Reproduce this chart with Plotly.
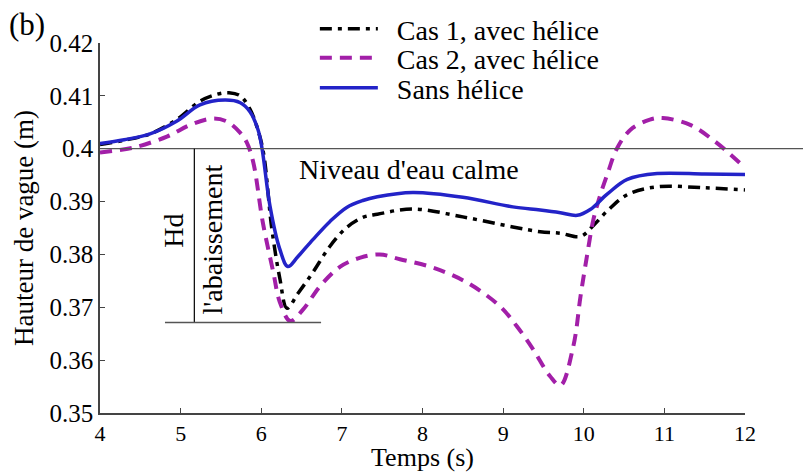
import plotly.graph_objects as go

# ---- data ----
t_cas1 = [4.0, 4.3, 4.62, 4.95, 5.24, 5.45, 5.6, 5.74, 5.86, 5.96, 6.03, 6.13, 6.23, 6.32,
          6.45, 6.64, 6.85, 7.06, 7.26, 7.44, 7.88, 8.5, 9.12, 9.46, 9.71, 9.96, 10.12,
          10.29, 10.54, 10.91, 11.5, 12.0]
h_cas1 = [0.4008, 0.4016, 0.4028, 0.4055, 0.4090, 0.4103, 0.4106, 0.4100, 0.4075, 0.4035,
          0.3990, 0.3850, 0.3755, 0.3698, 0.3725, 0.3766, 0.3815, 0.3851, 0.3870, 0.3876,
          0.3886, 0.3871, 0.3852, 0.3843, 0.3840, 0.3834, 0.3855, 0.3882, 0.3913, 0.3928,
          0.3926, 0.3922]

t_cas2 = [4.0, 4.41, 4.83, 5.12, 5.40, 5.58, 5.74, 5.82, 5.90, 6.02, 6.15, 6.23, 6.36,
          6.52, 6.73, 6.98, 7.23, 7.47, 7.72, 8.13, 8.55, 8.96, 9.17, 9.37, 9.58, 9.71,
          9.87, 9.96, 10.04, 10.12, 10.20, 10.30, 10.41, 10.58, 10.82, 10.98, 11.32,
          11.65, 12.0]
h_cas2 = [0.3993, 0.4002, 0.4023, 0.4045, 0.4057, 0.4051, 0.4030, 0.4012, 0.3975, 0.3860,
          0.3766, 0.3710, 0.3674, 0.3696, 0.3740, 0.3777, 0.3794, 0.3800, 0.3791, 0.3775,
          0.3747, 0.3702, 0.3664, 0.3621, 0.3570, 0.3552, 0.3626, 0.3721, 0.3797, 0.3866,
          0.3910, 0.3955, 0.4000, 0.4036, 0.4055, 0.4058, 0.4045, 0.4011, 0.3964]

t_sans = [4.0, 4.3, 4.62, 4.95, 5.24, 5.55, 5.74, 5.86, 5.96, 6.01, 6.11, 6.23, 6.33,
          6.45, 6.64, 6.85, 7.06, 7.26, 7.44, 7.88, 8.5, 9.12, 9.46, 9.71, 9.92, 10.08,
          10.29, 10.54, 10.91, 11.5, 12.0]
h_sans = [0.4010, 0.4017, 0.4028, 0.4052, 0.4083, 0.4092, 0.4087, 0.4070, 0.4036, 0.4000,
          0.3890, 0.3810, 0.3777, 0.3795, 0.3828, 0.3862, 0.3889, 0.3902, 0.3909, 0.3917,
          0.3908, 0.3890, 0.3884, 0.3879, 0.3874, 0.3885, 0.3914, 0.3942, 0.3953, 0.3952,
          0.3951]

names = ["Cas 1, avec hélice", "Cas 2, avec hélice", "Sans hélice"]
x_ticks = [4, 5, 6, 7, 8, 9, 10, 11, 12]
y_ticks = [0.35, 0.36, 0.37, 0.38, 0.39, 0.40, 0.41, 0.42]
y_tick_text = ["0.35", "0.36", "0.37", "0.38", "0.39", "0.4", "0.41", "0.42"]

calm_level = 0.40
hd_x = 5.17
hd_bottom = 0.3671
hd_base_x = [4.806, 6.742]

FONT = "Liberation Serif, Times New Roman, serif"
BLUE = "#2323C8"
PINK = "#A21FA8"

fig = go.Figure()
fig.add_trace(go.Scatter(x=t_cas1, y=h_cas1, mode="lines", name="\u00a0\u00a0" + names[0],
                         line=dict(color="black", width=3.5, dash="12px,6px,4px,6px", shape="spline"),
                         legend="legend", showlegend=True))
fig.add_trace(go.Scatter(x=t_cas2, y=h_cas2, mode="lines", name="\u00a0\u00a0" + names[1],
                         line=dict(color=PINK, width=4, dash="12px,8px", shape="spline"),
                         legend="legend2", showlegend=True))
fig.add_trace(go.Scatter(x=t_sans, y=h_sans, mode="lines", name="\u00a0\u00a0" + names[2],
                         line=dict(color=BLUE, width=3.5, shape="spline"),
                         legend="legend3", showlegend=True))

# reference lines
fig.add_shape(type="line", xref="paper", yref="y", x0=0, x1=1.09, y0=calm_level, y1=calm_level,
              line=dict(color="#555555", width=1.3))
fig.add_shape(type="line", xref="x", yref="y", x0=hd_x, x1=hd_x, y0=calm_level, y1=hd_bottom,
              line=dict(color="black", width=1.2))
fig.add_shape(type="line", xref="x", yref="y", x0=hd_base_x[0], x1=hd_base_x[1], y0=hd_bottom, y1=hd_bottom,
              line=dict(color="#555555", width=1.5))

tf = dict(family=FONT, size=28, color="black")
fig.add_annotation(x=6.444, y=0.3960, xref="x", yref="y", text="Niveau d'eau calme",
                   showarrow=False, xanchor="left", yanchor="middle", font=tf)
fig.add_annotation(x=4.918, y=0.3845, xref="x", yref="y", text="Hd", textangle=-90,
                   showarrow=False, xanchor="center", yanchor="middle", font=tf)
fig.add_annotation(x=5.40, y=0.3828, xref="x", yref="y", text="l'abaissement", textangle=-90,
                   showarrow=False, xanchor="center", yanchor="middle", font=tf)
fig.add_annotation(x=-0.113, y=1.051, xref="paper", yref="paper", text="(b)",
                   showarrow=False, xanchor="center", yanchor="middle",
                   font=dict(family=FONT, size=31, color="black"))

leg_common = dict(x=0.3331, xanchor="left", yanchor="middle", bgcolor="rgba(0,0,0,0)",
                  font=dict(family=FONT, size=28, color="black"), itemwidth=58)
fig.update_layout(
    width=803, height=472,
    showlegend=True,
    margin=dict(l=100, r=58, t=43, b=59, autoexpand=False),
    paper_bgcolor="white", plot_bgcolor="white",
    font=dict(family=FONT, color="black"),
    legend=dict(y=1.0378, **leg_common),
    legend2=dict(y=0.9595, **leg_common),
    legend3=dict(y=0.8784, **leg_common),
    xaxis=dict(range=[4, 12], tickvals=x_ticks, ticks="inside", ticklen=5, tickcolor="#444",
               showline=True, linecolor="#444", linewidth=1.5, showgrid=False, zeroline=False,
               tickfont=dict(family=FONT, size=22, color="black"),
               title=dict(text="Temps (s)", font=dict(family=FONT, size=26, color="black"), standoff=2)),
    yaxis=dict(range=[0.35, 0.42], tickvals=y_ticks, ticktext=y_tick_text, ticks="inside", ticklen=5,
               tickcolor="#444", showline=True, linecolor="#444", linewidth=1.5, showgrid=False,
               zeroline=False, tickfont=dict(family=FONT, size=25, color="black"),
               title=dict(text="Hauteur de vague (m)", font=dict(family=FONT, size=27, color="black"),
                          standoff=8)),
)
fig.write_html("out.html", config={"displayModeBar": False},
               post_script="document.body.style.margin='0';document.body.style.overflow='hidden';")
